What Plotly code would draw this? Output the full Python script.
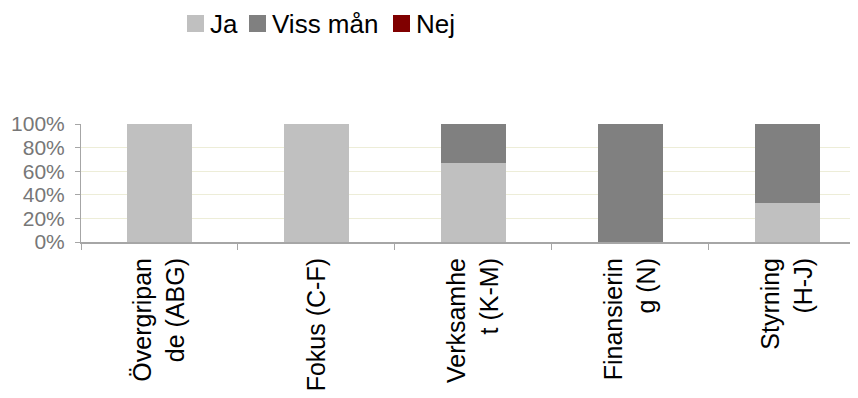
import plotly.graph_objects as go

categories = ["Övergripan<br>de (ABG)", "Fokus (C-F)", "Verksamhe<br>t (K-M)", "Finansierin<br>g (N)", "Styrning<br>(H-J)"]
ja = [100, 100, 66.7, 0, 33.3]
viss_man = [0, 0, 33.3, 100, 66.7]
nej = [0, 0, 0, 0, 0]
y_ticks = [0, 20, 40, 60, 80, 100]
y_tick_labels = ["0%", "20%", "40%", "60%", "80%", "100%"]

series = [("Ja", ja, "#c0c0c0"), ("Viss mån", viss_man, "#808080"), ("Nej", nej, "#800000")]

W, H = 850, 390
ML, MR, MT, MB = 73, 0, 116, 156
PW, PH = W - ML - MR, H - MT - MB

def px_x(p):
    return (p - ML) / PW

def px_y(p):
    return 1 + (MT - p) / PH

fig = go.Figure()
for name, vals, col in series:
    fig.add_trace(go.Bar(x=categories, y=vals, name=name, marker=dict(color=col, line=dict(width=0)),
                         width=0.414, showlegend=False))

# custom legend (square swatch + label), laid out left to right
legend_left = [179, 241, 385]
for (name, vals, col), lx in zip(series, legend_left):
    fig.add_shape(type="rect", xref="paper", yref="paper",
                  x0=px_x(lx), x1=px_x(lx + 17), y0=px_y(24), y1=px_y(7),
                  fillcolor=col, line=dict(width=0))
    fig.add_annotation(xref="paper", yref="paper", x=px_x(lx + 21), y=px_y(15.5),
                       xanchor="left", yanchor="middle", text=name, showarrow=False,
                       font=dict(size=26, color="#000000"))

fig.update_layout(
    barmode="stack",
    width=W, height=H,
    margin=dict(l=ML, r=MR, t=MT, b=MB, autoexpand=False),
    plot_bgcolor="white", paper_bgcolor="white",
    font=dict(family="Liberation Sans, Arial, sans-serif", size=17, color="#000000"),
    showlegend=False,
)
fig.update_xaxes(range=[-0.5, 4.45], tickangle=-90, showline=True, linecolor="#a6a6a6", linewidth=2,
                 ticks="outside", tickson="boundaries", tickcolor="#a6a6a6", ticklen=6,
                 ticklabelstandoff=4,
                 tickfont=dict(size=25, color="#000000"), showgrid=False, automargin=False)
fig.update_yaxes(range=[0, 100], tickvals=y_ticks, ticktext=y_tick_labels,
                 showline=True, linecolor="#a6a6a6", linewidth=1, ticks="outside", tickcolor="#a6a6a6", ticklen=5,
                 ticklabelstandoff=6,
                 gridcolor="#ededd8", gridwidth=1, tickfont=dict(size=21, color="#777777"), zeroline=False,
                 automargin=False)
fig.write_html("out.html")
